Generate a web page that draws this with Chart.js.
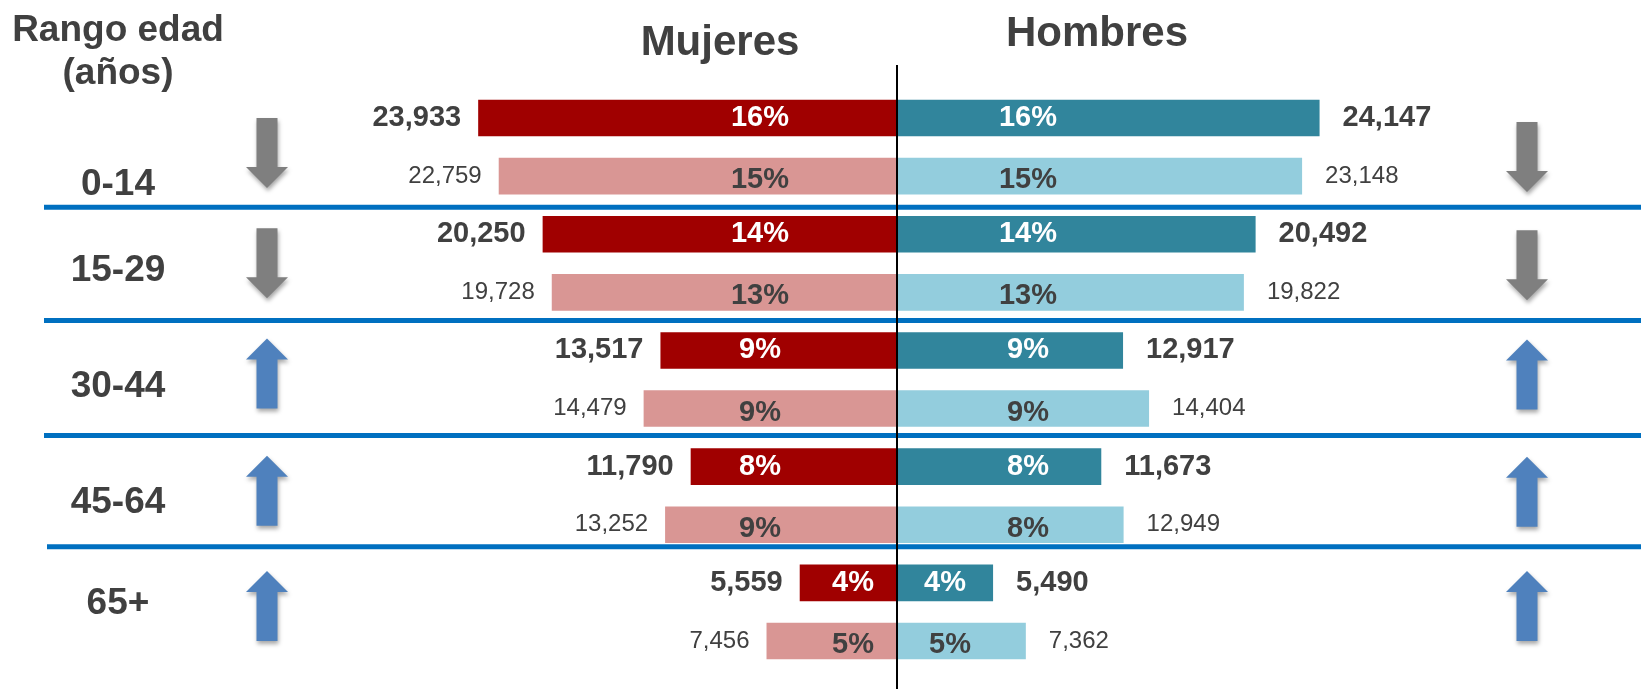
<!DOCTYPE html>
<html lang="es">
<head>
<meta charset="utf-8">
<title>Población por rango de edad</title>
<script src="https://cdn.jsdelivr.net/npm/chart.js@4/dist/chart.umd.min.js"></script>
<style>
  html, body { margin: 0; padding: 0; background: #fff; }
  #wrap { width: 1641px; height: 689px; position: relative; }
</style>
</head>
<body>
<div id="wrap"><canvas id="piramide"></canvas></div>
<script>
// Datos
const grupos = ["0-14", "15-29", "30-44", "45-64", "65+"];
const mujeresAnterior = [23933, 20250, 13517, 11790, 5559];
const mujeresActual = [22759, 19728, 14479, 13252, 7456];
const hombresAnterior = [24147, 20492, 12917, 11673, 5490];
const hombresActual = [23148, 19822, 14404, 12949, 7362];
const pctMujeresAnterior = [16, 14, 9, 8, 4];
const pctMujeresActual = [15, 13, 9, 9, 5];
const pctHombresAnterior = [16, 14, 9, 8, 4];
const pctHombresActual = [15, 13, 9, 8, 5];

const FUENTE = '"Liberation Sans", Arial, sans-serif';
const GRIS_TEXTO = "#404040";

// Flecha hacia arriba o abajo centrada en (cx, cy)
function dibujarFlecha(ctx, cx, cy, sube) {
  const largo = 70, cuerpo = 21, cabeza = 42, punta = 21;
  const s = sube ? -1 : 1;
  const ini = cy - s * largo / 2, fin = cy + s * largo / 2;
  const baseCabeza = fin - s * punta;
  ctx.save();
  ctx.shadowColor = "rgba(0,0,0,0.35)";
  ctx.shadowBlur = 4;
  ctx.shadowOffsetX = 1;
  ctx.shadowOffsetY = 3;
  ctx.fillStyle = sube ? "#4f81bd" : "#7f7f7f";
  ctx.beginPath();
  ctx.moveTo(cx - cuerpo / 2, ini);
  ctx.lineTo(cx + cuerpo / 2, ini);
  ctx.lineTo(cx + cuerpo / 2, baseCabeza);
  ctx.lineTo(cx + cabeza / 2, baseCabeza);
  ctx.lineTo(cx, fin);
  ctx.lineTo(cx - cabeza / 2, baseCabeza);
  ctx.lineTo(cx - cuerpo / 2, baseCabeza);
  ctx.closePath();
  ctx.fill();
  ctx.restore();
}

const decoracion = {
  id: "decoracion",
  beforeDatasetsDraw(chart) {
    const ctx = chart.ctx;
    const y = chart.scales.y;
    // líneas azules entre rangos (pequeños ajustes como en el original)
    const ajusteLinea = [2, -1, -2, -7];
    ctx.save();
    ctx.strokeStyle = "#0070c0";
    ctx.lineWidth = 5;
    for (let i = 0; i < grupos.length - 1; i++) {
      const py = y.getPixelForValue(i + 0.5) + ajusteLinea[i];
      ctx.beginPath();
      ctx.moveTo(i === 3 ? 47 : 44, py);
      ctx.lineTo(chart.width, py);
      ctx.stroke();
    }
    ctx.restore();
  },
  afterDatasetsDraw(chart) {
    const ctx = chart.ctx;
    const x = chart.scales.x;
    const y = chart.scales.y;
    const cero = x.getPixelForValue(0);

    // eje central
    ctx.save();
    ctx.strokeStyle = "#000";
    ctx.lineWidth = 2;
    ctx.beginPath();
    ctx.moveTo(cero, 65);
    ctx.lineTo(cero, chart.height);
    ctx.stroke();

    // títulos
    ctx.fillStyle = GRIS_TEXTO;
    ctx.textBaseline = "alphabetic";
    ctx.textAlign = "center";
    ctx.font = "bold 42px " + FUENTE;
    ctx.fillText("Mujeres", cero - 177, 55);
    ctx.fillText("Hombres", cero + 200, 46);
    ctx.font = "bold 37px " + FUENTE;
    ctx.fillText("Rango edad", 118, 41);
    ctx.fillText("(años)", 118, 84);

    // rangos de edad y flechas
    const ajusteTexto = [35, 5, 4, 4, -11];
    const ajusteIzq = [6, 0, -6, -5, -6];
    const ajusteDer = [10, 2, -5, -4, -6];
    grupos.forEach((g, i) => {
      const cy = y.getPixelForValue(i);
      ctx.fillStyle = GRIS_TEXTO;
      ctx.font = "bold 37px " + FUENTE;
      ctx.textAlign = "center";
      ctx.textBaseline = "alphabetic";
      ctx.fillText(g, 118, cy + ajusteTexto[i] + 13);
      dibujarFlecha(ctx, 267, cy + ajusteIzq[i], mujeresActual[i] > mujeresAnterior[i]);
      dibujarFlecha(ctx, 1527, cy + ajusteDer[i], hombresActual[i] > hombresAnterior[i]);
    });

    // etiquetas de valores y porcentajes
    chart.data.datasets.forEach((ds, i) => {
      const meta = chart.getDatasetMeta(i);
      const izq = ds.lado === "izq";
      meta.data.forEach((bar, j) => {
        const largo = Math.abs(bar.x - bar.base);
        ctx.textBaseline = "middle";
        ctx.fillStyle = GRIS_TEXTO;
        ctx.font = (ds.fuerte ? "bold 29px " : "24px ") + FUENTE;
        ctx.textAlign = izq ? "right" : "left";
        const sep = izq ? -17 : 23;
        ctx.fillText(ds.valores[j].toLocaleString("en-US"), bar.x + sep, bar.y);

        // el porcentaje va a distancia fija del eje; en barras cortas, cerca del eje
        const desp = largo < 160
          ? Math.min(largo / 2, izq ? 44 : 53)
          : Math.min(izq ? 137 : 131, largo - 60);
        ctx.font = "bold 29px " + FUENTE;
        ctx.fillStyle = ds.fuerte ? "#fff" : GRIS_TEXTO;
        ctx.textAlign = "center";
        ctx.fillText(ds.pct[j] + "%", bar.base + (izq ? -desp : desp), bar.y + (ds.fuerte ? 0 : 4));
      });
    });
    ctx.restore();
  }
};

const ctx = document.getElementById("piramide");
new Chart(ctx, {
  type: "bar",
  data: {
    labels: grupos,
    datasets: [
      {
        label: "Mujeres anterior", stack: "anterior", lado: "izq", fuerte: true,
        valores: mujeresAnterior, pct: pctMujeresAnterior,
        data: mujeresAnterior.map(v => -v), backgroundColor: "#a00000"
      },
      {
        label: "Hombres anterior", stack: "anterior", lado: "der", fuerte: true,
        valores: hombresAnterior, pct: pctHombresAnterior,
        data: hombresAnterior, backgroundColor: "#31859c"
      },
      {
        label: "Mujeres actual", stack: "actual", lado: "izq", fuerte: false,
        valores: mujeresActual, pct: pctMujeresActual,
        data: mujeresActual.map(v => -v), backgroundColor: "#d99694"
      },
      {
        label: "Hombres actual", stack: "actual", lado: "der", fuerte: false,
        valores: hombresActual, pct: pctHombresActual,
        data: hombresActual, backgroundColor: "#93cddd"
      }
    ]
  },
  options: {
    indexAxis: "y",
    responsive: true,
    maintainAspectRatio: false,
    animation: false,
    categoryPercentage: 1.0,
    barPercentage: 0.63,
    layout: { padding: { left: 372, right: 219, top: 89, bottom: 19 } },
    scales: {
      x: { stacked: true, min: -30000, max: 30000, display: false },
      y: { stacked: true, display: false }
    },
    plugins: {
      legend: { display: false },
      tooltip: { enabled: false }
    }
  },
  plugins: [decoracion]
});
</script>
</body>
</html>
